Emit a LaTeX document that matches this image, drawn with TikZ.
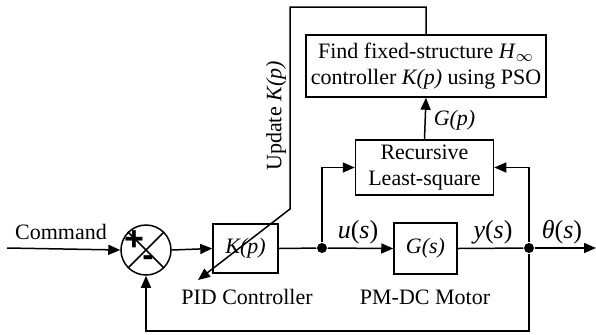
\documentclass[tikz,border=0pt]{standalone}
\usepackage{fontspec}
\setmainfont{Liberation Serif}
\newfontfamily\signfont{Liberation Sans}
\usetikzlibrary{arrows.meta}
\begin{document}
\begin{tikzpicture}[x=0.5pt,y=-0.5pt,
  line width=0.75pt,
  font=\fontsize{11}{13}\selectfont,
  arr/.style={-{Triangle[length=6pt,width=5pt]}},
  blk/.style={draw,line width=0.75pt,inner sep=0pt,align=center},
  dot/.style={circle,fill,inner sep=0pt,minimum size=5pt},
  lbl/.style={inner sep=0pt},
  sign/.style={inner sep=0pt,font=\signfont\bfseries\fontsize{17}{17}\selectfont},
  sig/.style={inner sep=0pt,font=\fontsize{13}{15}\selectfont}]
\useasboundingbox (0,0) rectangle (596,334);
% blocks
\node[draw,circle,minimum size=25pt,inner sep=0pt] (sum) at (146,250) {};
\draw (sum.north west) -- (sum.south east) (sum.north east) -- (sum.south west);
\node[sign] (plus) at (134,241) {+};
\node[sign] (minus) at (148,261) {-};
\node[blk,minimum width=32.5pt,minimum height=24.5pt] (K) at (245.5,248.5) {\textit{K(p)}};
\node[blk,minimum width=31.5pt,minimum height=25.5pt] (G) at (425.5,248.5) {\textit{G(s)}};
\node[blk,minimum width=69pt,minimum height=27.5pt] (R) at (424.5,167.5) {Recursive\\Least-square};
\node[blk,minimum width=120pt,minimum height=31pt] (F) at (426,66) {Find fixed-structure \textit{H}$_\infty$\\controller \textit{K(p)} using PSO};
% coordinates
\coordinate (cin) at (7,248);
\coordinate (ju) at (322,248);
\coordinate (jy) at (529,248);
\coordinate (out) at (596,248);
\coordinate (bl) at (146,331);
\coordinate (br) at (529,331);
\coordinate (uk) at (322,167.5);
\coordinate (yk) at (529,167.5);
\coordinate (t1) at (290,7);
\coordinate (t2) at (426,7);
\coordinate (kink) at (290,209);
\coordinate (tip) at (198,280);
\node[dot] (du) at (ju) {};
\node[dot] (dy) at (jy) {};
% connectors
\draw[arr] (cin) -- (sum.west);
\draw[arr] (sum.east) -- (K.west);
\draw (K.east) -- (du);
\draw[arr] (du) -- (G.west);
\draw (G.east) -- (dy);
\draw[arr] (dy) -- (out);
\draw[arr] (dy) -- (br) -- (bl) -- (sum.south);
\draw[arr] (du) -- (uk) -- (R.west);
\draw[arr] (dy) -- (yk) -- (R.east);
\draw[arr] (R.north) -- (F.south);
\draw[arr] (F.north) -- (t2) -- (t1) -- (kink) -- (tip);
% labels
\node[lbl] (cmd) at (61,232) {Command};
\node[lbl] (pid) at (247,297) {PID Controller};
\node[lbl] (pm) at (425,297) {PM-DC Motor};
\node[lbl,anchor=west] (gp) at (433,120) {\textit{G(p)}};
\node[lbl,rotate=90] (upd) at (276,116) {Update \textit{K(p)}};
\node[sig] (us) at (358,232) {\textit{u}(\textit{s})};
\node[sig] (ys) at (493,232) {\textit{y}(\textit{s})};
\node[sig] (ts) at (562,232) {\textit{θ}(\textit{s})};
\end{tikzpicture}
\end{document}
